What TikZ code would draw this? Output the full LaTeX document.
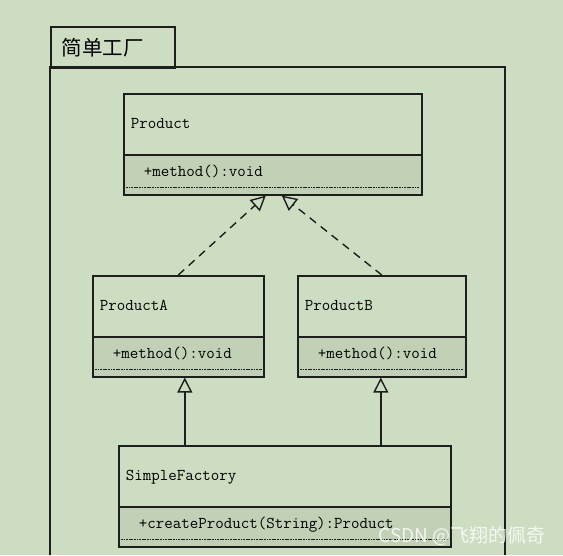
\documentclass[tikz,border=0pt]{standalone}
\usepackage{fontspec}
\usepackage{tikz}
\usetikzlibrary{arrows.meta,positioning}
\newfontfamily\cjkfont{Noto Sans CJK SC}
\definecolor{PaleGreen}{HTML}{CCDDC1}
\definecolor{OpGreen}{HTML}{C0D1B5}
\definecolor{Ink}{HTML}{1E1E1E}

\begin{document}
\begin{tikzpicture}[
    x=1pt, y=-1pt,
    classname/.style={
        rectangle,
        draw=Ink,
        line width=1.6pt,
        fill=PaleGreen,
        anchor=north west,
        minimum height=61pt,
        inner xsep=7pt,
        text height=11pt,
        text depth=3.5pt,
        align=left,
        font=\ttfamily\fontsize{16.5}{18}\selectfont
    },
    classop/.style={
        classname,
        fill=OpGreen,
        minimum height=40pt,
        inner xsep=20pt,
        text depth=8pt,
        anchor=north
    },
    realize/.style={-{Triangle[open, length=15pt, width=15pt, fill=PaleGreen]}, dashed, dash pattern=on 8pt off 6pt, line width=1.4pt, draw=Ink},
    inherit/.style={-{Triangle[open, length=15pt, width=15pt, fill=PaleGreen]}, line width=1.4pt, draw=Ink},
    sepline/.style={dash pattern=on 1.8pt off 0.8pt, line width=1.3pt, draw=Ink}
]
    % background and package frame
    \fill[PaleGreen] (0,0) rectangle (563,555);
    \useasboundingbox (0,0) rectangle (563,555);
    \node[draw=Ink, line width=1.6pt, anchor=north west, minimum width=124pt, minimum height=41pt,
          inner xsep=11pt, text width=102pt, align=left, font=\cjkfont\fontsize{20.5}{22}\selectfont]
          (pkg) at (50,26) {简单工厂};
    \draw[Ink, line width=1.6pt] (50,555) -- (50,67) -- (505,67) -- (505,555);

    % classes
    \node[classname, minimum width=298pt, text width=284pt] (prod) at (123,93) {Product};
    \node[classop, minimum width=298pt, text width=258pt, below=-1.6pt of prod.south] (prodm) {+method():void};

    \node[classname, minimum width=171pt, text width=157pt] (pa) at (92,275) {ProductA};
    \node[classop, minimum width=171pt, text width=131pt, below=-1.6pt of pa.south] (pam) {+method():void};

    \node[classname, minimum width=168pt, text width=154pt] (pb) at (297,275) {ProductB};
    \node[classop, minimum width=168pt, text width=128pt, below=-1.6pt of pb.south] (pbm) {+method():void};

    \node[classname, minimum width=332pt, text width=318pt] (sf) at (118,445) {SimpleFactory};
    \node[classop, minimum width=332pt, text width=292pt, below=-1.6pt of sf.south] (sfm) {+createProduct(String):Product};

    % dotted separators
    \foreach \c in {prodm,pam,pbm,sfm}
        \draw[sepline] ([xshift=3pt,yshift=8pt]\c.south west) -- ([xshift=-3pt,yshift=8pt]\c.south east);

    % connectors
    \draw[realize] (pa.north) -- ([xshift=-7pt]prodm.south);
    \draw[realize] (pb.north) -- ([xshift=9pt]prodm.south);
    \draw[inherit] ([xshift=6.5pt]pam.south |- sf.north) -- ([xshift=6.5pt]pam.south);
    \draw[inherit] ([xshift=-1pt]pbm.south |- sf.north) -- ([xshift=-1pt]pbm.south);

    % watermark
    \node[anchor=west, text=white, opacity=0.8, font=\cjkfont\fontsize{19}{21}\selectfont] (mark) at (375,536) {CSDN @飞翔的佩奇};
\end{tikzpicture}
\end{document}
